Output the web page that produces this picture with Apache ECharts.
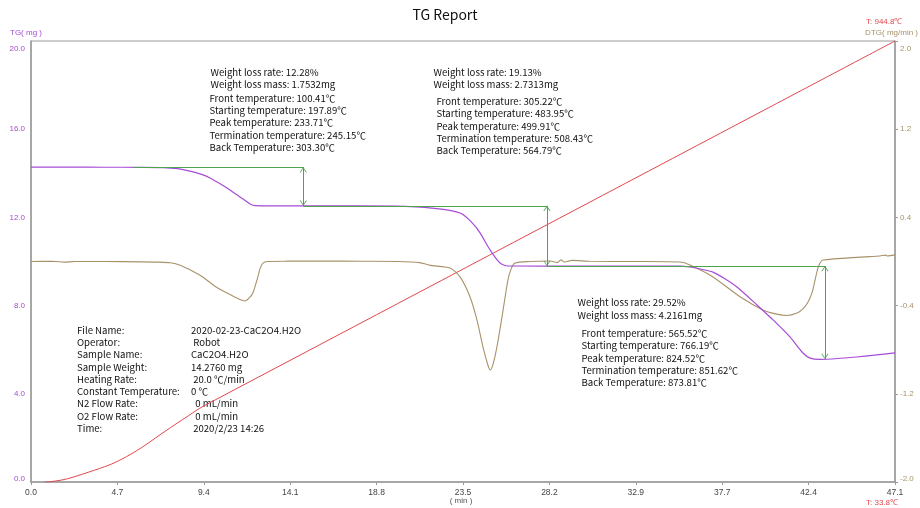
<!DOCTYPE html>
<html><head><meta charset="utf-8">
<script src="https://cdn.jsdelivr.net/npm/echarts@6/dist/echarts.min.js"></script>
<style>html,body{margin:0;padding:0;background:#fff}#c{width:920px;height:508px}</style>
</head><body><div id="c"></div>
<script>
// ---------- data ----------
const xTickValues = [0, 4.712, 9.424, 14.136, 18.848, 23.56, 28.272, 32.984, 37.696, 42.408, 47.12];
const xTickLabels = ['0.0','4.7','9.4','14.1','18.8','23.5','28.2','32.9','37.7','42.4','47.1'];
const tgTickValues = [0, 4, 8, 12, 16, 20];
const tgTickLabels = ['0.0','4.0','8.0','12.0','16.0','20.0'];
const dtgTickValues = [-2, -1.2, -0.4, 0.4, 1.2, 2];
const dtgTickLabels = ['-2.0','-1.2','-0.4','0.4','1.2','2.0'];
const tempRange = [33.8, 944.8];
const xAxisName = '( min )';

const tgData = [
 [0,14.276],[2,14.276],[4,14.275],[6,14.272],[7.2,14.26],[8.0,14.21],[8.67,14.10],[9.3,13.95],
 [9.76,13.79],[10.2,13.58],[10.69,13.33],[11.1,13.10],[11.4,12.93],[11.7,12.76],[11.95,12.61],
 [12.22,12.53],[12.6,12.523],[16,12.52],[19.96,12.515],[21,12.48],[22,12.41],[22.69,12.34],
 [23.2,12.25],[23.56,12.13],[24.1,11.72],[24.49,11.30],[24.87,10.75],
 [25.14,10.39],[25.38,10.12],[25.58,9.93],[25.85,9.82],[26.2,9.795],[30,9.792],[35.39,9.79],
 [35.94,9.75],[36.5,9.66],[37.19,9.52],[37.8,9.24],[38.5,8.84],[39.59,8.03],[40.47,7.35],
 [41.39,6.58],[42.1,5.85],[42.49,5.62],[43.03,5.56],[44,5.6],[45,5.67],[46,5.75],[47.12,5.86]
];
const dtgData = [
 [0,0.0],[1.2,0.002],[1.8,-0.006],[2.4,0.0],[4,0.0],[6,-0.003],[7.0,-0.006],[7.6,-0.012],
 [8.1,-0.032],[9.2,-0.122],[10.1,-0.231],[10.9,-0.304],[11.4,-0.345],[11.67,-0.358],[11.9,-0.33],
 [12.1,-0.286],[12.37,-0.141],[12.5,-0.06],[12.65,-0.014],[12.9,0.0],[14,0.003],[16,0.004],
 [18,0.002],[20,0.0],[21.2,-0.01],[21.76,-0.035],[22.85,-0.059],[23.4,-0.14],[23.94,-0.32],
 [24.32,-0.53],[24.65,-0.775],[24.9,-0.93],[25.04,-0.984],[25.2,-0.93],[25.41,-0.775],
 [25.69,-0.50],[26.01,-0.168],[26.2,-0.06],[26.4,-0.014],[27.2,0.0],[28.3,0.005],[28.7,-0.01],
 [28.9,0.015],[29.1,-0.005],[29.5,0.01],[30.5,0.002],[33,0.0],[35.39,-0.005],[35.94,-0.032],
 [37.19,-0.14],[38.67,-0.32],[39.92,-0.44],[40.6,-0.475],[41.23,-0.49],[41.78,-0.467],
 [42.1,-0.43],[42.38,-0.367],[42.6,-0.28],[42.76,-0.168],[42.9,-0.07],[43.03,-0.014],
 [43.19,0.013],[45.2,0.04],[46.3,0.05],[46.6,0.058],[46.7,0.05],[47.12,0.06]
];
const tempData = [
 [0.76,33.8],[1.3,35.6],[2.0,40.5],[2.8,50],[3.6,60],[4.4,71],[5.2,86],[6.0,104],[6.8,125],
 [7.6,146],[8.4,166],[9.2,186],[10,202.4],[20,402.4],[30,602.4],[40,802.4],[47.12,944.8]
];
// step annotation (times in min, masses in mg)
const stepLevels = [14.276, 12.523, 9.792, 5.576];
const stepFront = [5.56, 14.85, 28.14];
const stepBack = [14.85, 28.14, 43.3];

const titleText = 'TG Report';
const stepTexts = [
 ['Weight loss rate: 12.28%','Weight loss mass: 1.7532mg'],
 ['Front temperature: 100.41℃','Starting temperature: 197.89℃','Peak temperature: 233.71℃','Termination temperature: 245.15℃','Back Temperature: 303.30℃'],
 ['Weight loss rate: 19.13%','Weight loss mass: 2.7313mg'],
 ['Front temperature: 305.22℃','Starting temperature: 483.95℃','Peak temperature: 499.91℃','Termination temperature: 508.43℃','Back Temperature: 564.79℃'],
 ['Weight loss rate: 29.52%','Weight loss mass: 4.2161mg'],
 ['Front temperature: 565.52℃','Starting temperature: 766.19℃','Peak temperature: 824.52℃','Termination temperature: 851.62℃','Back Temperature: 873.81℃']
];
const infoLabels = ['File Name:','Operator:','Sample Name:','Sample Weight:','Heating Rate:','Constant Temperature:','N2 Flow Rate:','O2 Flow Rate:','Time:'];
const infoValues = ['2020-02-23-CaC2O4.H2O',' Robot','CaC2O4.H2O','14.2760 mg',' 20.0 ℃/min','0 ℃','  0 mL/min','  0 mL/min',' 2020/2/23 14:26'];

// ---------- layout / style ----------
const FONT = '"Noto Sans CJK SC", "Liberation Sans", sans-serif';
const AXF = '"Liberation Sans", Arial, sans-serif';
const purple = '#a64bd6', olive = '#a8926a', red = '#e0474c', green = '#4ea34e';
const axisGray = '#9a9a9a';
const TS = 9.6;

const graphic = [];
function txt(x, y, s, size, color, align, fam) {
  graphic.push({type:'text', x:x, y:y, silent:true,
    style:{text:s, font: size + 'px ' + (fam||FONT), fill:color, align:align||'left', verticalAlign:'middle'}});
}
function block(lines, x, y0, dy) { lines.forEach((s,i)=>txt(x, y0 + i*dy, s, TS, '#111')); }

txt(445, 15, titleText, 14, '#111', 'center');
block(stepTexts[0], 210.5, 72, 12.5);
block(stepTexts[1], 209.5, 98, 12.3);
block(stepTexts[2], 433.5, 72, 12.3);
block(stepTexts[3], 436.5, 101.5, 12.3);
block(stepTexts[4], 577.5, 302.5, 12.5);
block(stepTexts[5], 581.5, 333.5, 12.3);
infoLabels.forEach((s,i)=>txt(77, 330 + i*12.3, s, TS, '#111'));
infoValues.forEach((s,i)=>txt(191, 330 + i*12.3, s, TS, '#111'));

txt(10, 33, 'TG( mg )', 8, purple, 'left', AXF);
txt(918, 33, 'DTG( mg/min )', 8, olive, 'right', AXF);
txt(866, 22, 'T: ' + tempRange[1] + '℃', 8, red, 'left', AXF);
txt(866, 503, 'T: ' + tempRange[0] + '℃', 8, red, 'left', AXF);
txt(461, 501, xAxisName, 8, '#555', 'center', AXF);

// markLines for the weight-loss steps
const chevron = 'path://M0,0 L3.5,5 L2.9,5.5 L0,1.3 L-2.9,5.5 L-3.5,5 Z M0,-5.5 L0.01,-5.5 L0,-5.49 Z';
const mlData = [];
for (let i = 0; i < stepBack.length; i++) {
  mlData.push([{coord:[stepFront[i], stepLevels[i]], symbol:'none'}, {coord:[stepBack[i], stepLevels[i]], symbol:'none'}]);
  mlData.push([{coord:[stepBack[i], stepLevels[i]], symbol:chevron, symbolSize:[7,11]},
               {coord:[stepBack[i], stepLevels[i+1]], symbol:chevron, symbolSize:[7,11]}]);
}

function labelFmt(values, labels) {
  return function (v) {
    let idx = 0, best = Infinity;
    values.forEach((tv,i)=>{ const d = Math.abs(tv - v); if (d < best) { best = d; idx = i; } });
    const s = labels[idx];
    if (idx === labels.length - 1) return '{top|' + s + '}';
    if (idx === 0) return '{bot|' + s + '}';
    return s;
  };
}
function richFor(color) {
  return {
    top: {padding:[16,0,0,0], color:color, fontSize:8, fontFamily:AXF},
    bot: {padding:[0,0,6,0], color:color, fontSize:8, fontFamily:AXF}
  };
}

const chart = echarts.init(document.getElementById('c'), null, {renderer:'canvas'});
chart.setOption({
  animation:false,
  backgroundColor:'#fff',
  grid:{left:31, right:25, top:41, bottom:26, show:true, borderColor:axisGray, borderWidth:1,
    containLabel:false, outerBoundsMode:'none'},
  xAxis:{type:'value', min:0, max:47.12,
    axisLine:{lineStyle:{color:axisGray, width:1.5}},
    axisTick:{show:true, length:3, lineStyle:{color:axisGray}, customValues:xTickValues},
    axisLabel:{color:'#444', fontSize:8.5, fontFamily:AXF, margin:6, customValues:xTickValues,
      formatter:function(v){ let idx=0,b=Infinity; xTickValues.forEach((tv,i)=>{const d=Math.abs(tv-v); if(d<b){b=d;idx=i;}}); return xTickLabels[idx]; }},
    splitLine:{show:false}},
  yAxis:[
    {type:'value', min:0, max:20, position:'left',
      axisLine:{show:true, lineStyle:{color:axisGray, width:1.5}},
      axisTick:{show:false},
      axisLabel:{color:purple, fontSize:8, fontFamily:AXF, margin:6, customValues:tgTickValues,
        formatter:labelFmt(tgTickValues, tgTickLabels), rich:richFor(purple)},
      splitLine:{show:false}},
    {type:'value', min:-2, max:2, position:'right',
      axisLine:{show:true, lineStyle:{color:axisGray, width:1.5}},
      axisTick:{show:true, length:3, lineStyle:{color:axisGray}, customValues:dtgTickValues},
      axisLabel:{color:olive, fontSize:8, fontFamily:AXF, margin:5, customValues:dtgTickValues,
        formatter:labelFmt(dtgTickValues, dtgTickLabels), rich:richFor(olive)},
      splitLine:{show:false}},
    {type:'value', min:tempRange[0], max:tempRange[1], position:'right', show:false,
      splitLine:{show:false}}
  ],
  graphic: graphic,
  series:[
    {name:'T', type:'line', yAxisIndex:2, data:tempData, showSymbol:false, smooth:0.3,
      lineStyle:{color:red, width:1}, z:2},
    {name:'DTG', type:'line', yAxisIndex:1, data:dtgData, showSymbol:false, smooth:0.25,
      lineStyle:{color:olive, width:1.1}, z:3},
    {name:'TG', type:'line', yAxisIndex:0, data:tgData, showSymbol:false, smooth:0.25,
      lineStyle:{color:purple, width:1.2}, z:4,
      markLine:{silent:true, animation:false, label:{show:false},
        lineStyle:{color:green, width:1, type:'solid'}, emphasis:{disabled:true},
        data:mlData}}
  ]
});
</script>
</body></html>
